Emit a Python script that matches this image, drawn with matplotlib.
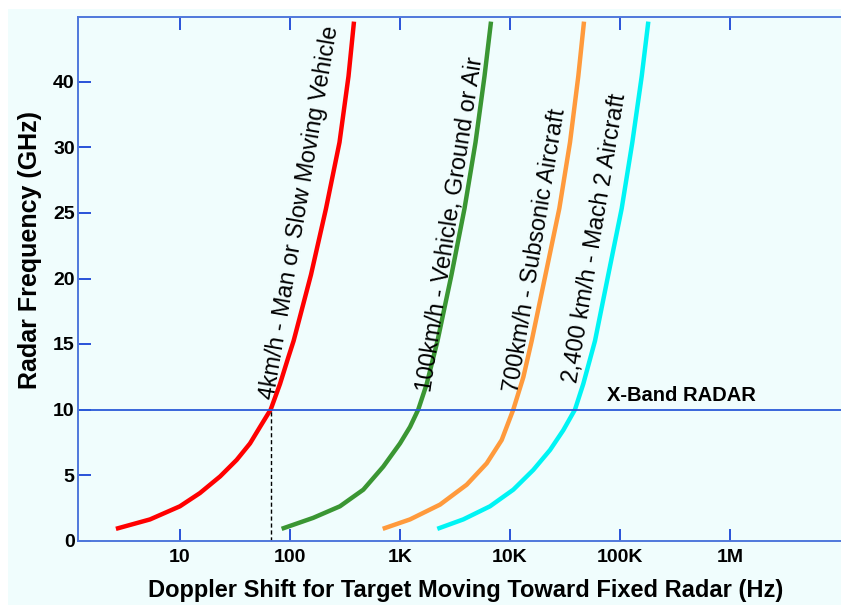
import matplotlib
matplotlib.use('Agg')
import matplotlib.pyplot as plt
from matplotlib.patches import Rectangle
from matplotlib.ticker import NullLocator

plt.rcParams['font.family'] = ['Liberation Sans', 'DejaVu Sans']

# points: doppler shift (Hz) and radar frequency (GHz)
red_hz = [2.62, 5.35, 10.0, 15.2, 23.2, 32.8, 43.4, 53.5, 66.9, 81.3, 96.7, 108.1,
          155.5, 212.9, 282.4, 341, 382.5]
red_ghz = [0.89, 1.61, 2.61, 3.62, 4.89, 6.15, 7.41, 8.67, 10.0, 11.95, 13.98, 15.24,
           20.29, 25.34, 30.39, 35.44, 39.61]

green_hz = [84.1, 163, 285, 465, 706, 1002, 1236, 1469, 1753, 2197, 2945, 3867,
            4868, 5877, 6733]
green_ghz = [0.89, 1.73, 2.61, 3.88, 5.64, 7.41, 8.67, 10.0, 11.95, 15.24, 20.29, 25.34,
             30.39, 35.44, 39.61]

orange_hz = [698, 1236, 2317, 4049, 6152, 8420, 10740, 13240, 15780, 21070, 28130,
             35190, 41860, 47170]
orange_ghz = [0.89, 1.61, 2.74, 4.26, 5.89, 7.67, 10.0, 12.46, 15.24, 20.29, 25.34,
              30.39, 35.44, 39.61]

cyan_hz = [2188, 3767, 6592, 10740, 16330, 23170, 30580, 39070, 46450, 59380, 78430,
           103800, 129700, 157900, 181300]
cyan_ghz = [0.89, 1.61, 2.61, 3.88, 5.39, 6.91, 8.42, 10.0, 11.95, 15.24, 20.29,
            25.34, 30.39, 35.44, 39.61]

curve_labels = ['4km/h - Man or Slow Moving Vehicle',
                '100km/h - Vehicle, Ground or Air',
                '700km/h - Subsonic Aircraft',
                '2,400 km/h - Mach 2 Aircraft']

x_ticks = [10, 100, 1e3, 1e4, 1e5, 1e6]
x_tick_labels = ['10', '100', '1K', '10K', '100K', '1M']
y_ticks = [0, 5, 10, 15, 20, 25, 30, 35]
y_tick_labels = ['0', '5', '10', '15', '20', '25', '30', '40']

xband_ghz = 10
man_hz_at_xband = 68

blue_spine = '#4f78dc'
blue_tick = '#1a44d6'

fig = plt.figure(figsize=(8.41, 6.05), dpi=100)
fig.patch.set_facecolor('white')
fig.add_artist(Rectangle((8/841, 0), 1, 1-9/605, transform=fig.transFigure,
                         facecolor='#F0FDFD', edgecolor='none', zorder=-10))

ax = fig.add_axes([77.5/841, (605-540.5)/605, (841-77.5)/841, (540.5-16.5)/605])
ax.set_facecolor('none')
ax.set_xscale('log')
ax.set_xlim(10**(1+(77.5-179.9)/110), 10**(1+(841-179.9)/110))
ax.set_ylim(0, 40)

line_kw = dict(lw=3.2, solid_joinstyle='round', solid_capstyle='butt')
ax.plot(red_hz, red_ghz, color='#ff0000', **line_kw)
ax.plot(green_hz, green_ghz, color='#3a9633', **line_kw)
ax.plot(orange_hz, orange_ghz, color='#ff9a3c', **line_kw)
ax.plot(cyan_hz, cyan_ghz, color='#00f4f4', **line_kw)

# X-band line and dashed drop line
ax.axhline(xband_ghz, color='#2a5ad8', lw=1.3)
ax.plot([man_hz_at_xband, man_hz_at_xband], [0, xband_ghz], color='black',
        lw=1, dashes=(3, 2))
ax.text(76400, 10.64, 'X-Band RADAR', fontsize=14.5, fontweight='bold',
        ha='left', va='baseline')

# labels along the curves
label_pos = [(71.6, 10.72, 80.3), (1919, 11.33, 81.3), (11860, 11.25, 80.6), (40740, 12.0, 80.5)]
for s, (lx, ly, rot) in zip(curve_labels, label_pos):
    ax.text(lx, ly, s, rotation=rot, rotation_mode='anchor', ha='left',
            va='baseline', fontsize=16.8)

ax.set_xticks(x_ticks, x_tick_labels, fontweight='bold')
ax.xaxis.set_minor_locator(NullLocator())
ax.set_yticks(y_ticks, y_tick_labels, fontweight='bold')
ax.tick_params(axis='x', direction='in', length=9, width=1.3, color=blue_tick,
               top=True, bottom=True, labelsize=14, pad=6)
ax.tick_params(axis='y', direction='in', length=9, width=1.3, color=blue_tick,
               left=True, right=False, labelsize=14, pad=2)

for side in ['left', 'bottom', 'top']:
    ax.spines[side].set_color(blue_spine)
    ax.spines[side].set_linewidth(1.4)
ax.spines['right'].set_visible(False)

ax.set_xlabel('Doppler Shift for Target Moving Toward Fixed Radar (Hz)',
              fontsize=17, fontweight='bold', va='center')
ax.xaxis.set_label_coords(0.508, -0.0945)
ax.set_ylabel('Radar Frequency (GHz)', fontsize=18, fontweight='bold', va='center')
ax.yaxis.set_label_coords(-0.0625, 0.555)

fig.savefig('out.png', dpi=100)
